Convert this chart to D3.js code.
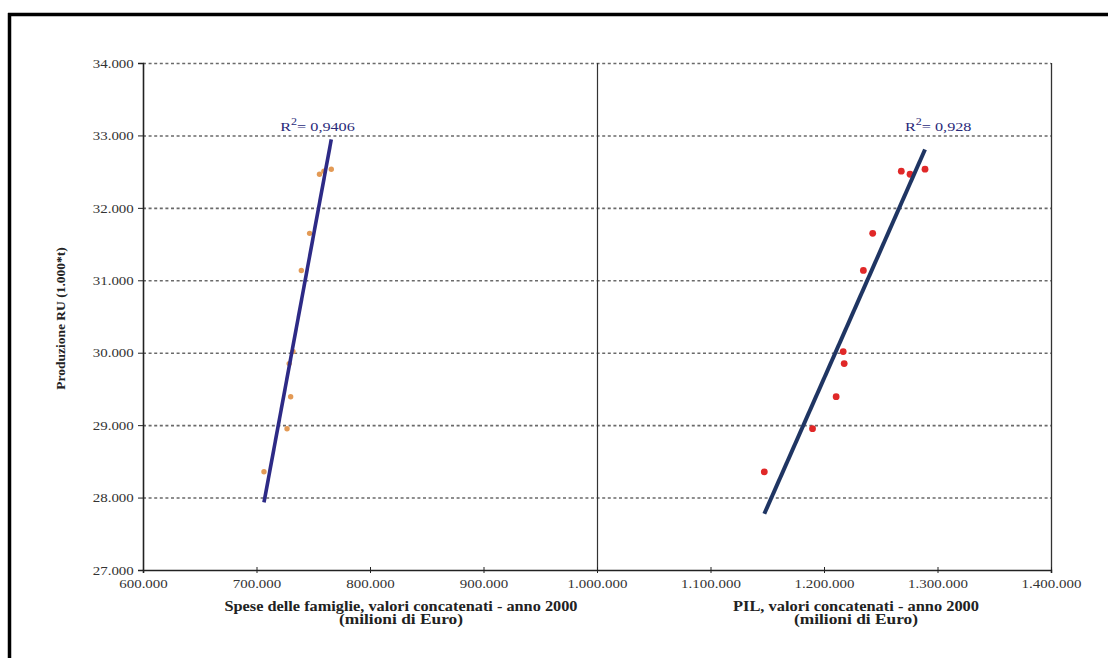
<!DOCTYPE html>
<html>
<head>
<meta charset="utf-8">
<script src="https://cdn.jsdelivr.net/npm/d3@7"></script>
<style>
  html, body { margin: 0; padding: 0; background: #fff; }
  svg { display: block; }
  svg text { font-family: "Liberation Serif", "Times New Roman", serif; }
</style>
</head>
<body>
<svg id="chart" width="1108" height="658"></svg>
<script>
// Produzione RU (1.000 t) per anno
const production = [28356, 28951, 29393, 29850, 30016, 31136, 31648, 32464, 32506, 32534];
// Spese delle famiglie, valori concatenati anno 2000 (milioni di Euro)
const householdSpending = [706600, 726900, 730100, 728800, 732100, 739500, 746800, 755500, 759400, 765900];
// PIL, valori concatenati anno 2000 (milioni di Euro)
const gdp = [1147400, 1189900, 1210700, 1217800, 1216900, 1234700, 1242900, 1275800, 1268100, 1289000];

const xTicks = [600000, 700000, 800000, 900000, 1000000, 1100000, 1200000, 1300000, 1400000];
const yTicks = [27000, 28000, 29000, 30000, 31000, 32000, 33000, 34000];
const rSquaredLabels = ["0,9406", "0,928"];
const xTitles = [
  ["Spese delle famiglie, valori concatenati - anno 2000", "(milioni di Euro)"],
  ["PIL, valori concatenati - anno 2000", "(milioni di Euro)"]
];
const yTitle = "Produzione RU (1.000*t)";

const it = d3.formatLocale({ decimal: ",", thousands: ".", grouping: [3], currency: ["", " €"] });
const fmt = it.format(",d");
const SERIF = '"Liberation Serif", "Times New Roman", serif';

const svg = d3.select("#chart");
const plot = { left: 143, right: 1051, top: 63, bottom: 570 };

const x = d3.scaleLinear().domain([600000, 1400000]).range([plot.left, plot.right]);
const y = d3.scaleLinear().domain([27000, 34000]).range([plot.bottom, plot.top]);

// page frame (top and left edges)
svg.append("line").attr("x1", 8).attr("x2", 1108).attr("y1", 14.5).attr("y2", 14.5)
  .attr("stroke", "#000").attr("stroke-width", 3.5);
svg.append("line").attr("x1", 9.5).attr("x2", 9.5).attr("y1", 13).attr("y2", 658)
  .attr("stroke", "#000").attr("stroke-width", 3.5);

// horizontal dotted grid
svg.append("g").selectAll("line").data(yTicks.filter(v => v > 27000)).join("line")
  .attr("x1", plot.left).attr("x2", plot.right)
  .attr("y1", d => y(d) + 0.5).attr("y2", d => y(d) + 0.5)
  .attr("stroke", "#6a6a6a").attr("stroke-width", 1.6).attr("stroke-dasharray", "3,2.6");

// right border and panel separator at 1.000.000
svg.append("line").attr("x1", plot.right + 0.5).attr("x2", plot.right + 0.5)
  .attr("y1", plot.top).attr("y2", plot.bottom).attr("stroke", "#333").attr("stroke-width", 1.3);
svg.append("line").attr("x1", x(1000000) + 0.5).attr("x2", x(1000000) + 0.5)
  .attr("y1", plot.top).attr("y2", plot.bottom).attr("stroke", "#333").attr("stroke-width", 1.2);

// axes
const yAxis = d3.axisLeft(y).tickValues(yTicks).tickFormat(fmt).tickSize(5).tickPadding(3);
const gy = svg.append("g").attr("transform", `translate(${plot.left},0)`).call(yAxis);
gy.attr("font-family", SERIF);
gy.select(".domain").attr("stroke", "#222").attr("stroke-width", 1.6);
gy.selectAll(".tick line").attr("stroke", "#222");
gy.selectAll(".tick text").attr("font-size", 13).attr("fill", "#333")
  .attr("transform", "scale(1.15,1)");

const xAxis = d3.axisBottom(x).tickValues(xTicks).tickFormat(fmt).tickSize(3).tickPadding(6);
const gx = svg.append("g").attr("transform", `translate(0,${plot.bottom})`).call(xAxis);
gx.attr("font-family", SERIF);
gx.select(".domain").attr("stroke", "#222").attr("stroke-width", 1.6);
gx.selectAll(".tick line").attr("stroke", "#222").attr("y1", -3);
gx.selectAll(".tick text").attr("font-size", 13).attr("fill", "#333")
  .attr("transform", "scale(1.15,1)");

// axis titles
svg.append("text").attr("transform", `translate(65,${(plot.top + plot.bottom) / 2 + 2}) rotate(-90)`)
  .attr("text-anchor", "middle").attr("font-size", 13.5).attr("font-weight", "bold").attr("fill", "#222")
  .text(yTitle);

const titleLayout = [
  { cx: 401, widths: [353, 124] },
  { cx: 856, widths: [246, 124] }
];
xTitles.forEach((lines, i) => {
  lines.forEach((t, j) => {
    const w = titleLayout[i].widths[j];
    svg.append("text").attr("x", titleLayout[i].cx - w / 2).attr("y", 611 + j * 13)
      .attr("font-size", 14).attr("font-weight", "bold").attr("fill", "#222")
      .attr("textLength", w).attr("lengthAdjust", "spacingAndGlyphs")
      .text(t);
  });
});

// least-squares fit over the data range
function fit(xs, ys) {
  const mx = d3.mean(xs), my = d3.mean(ys);
  let sxy = 0, sxx = 0;
  xs.forEach((v, i) => { sxy += (v - mx) * (ys[i] - my); sxx += (v - mx) * (v - mx); });
  const b = sxy / sxx, a = my - b * mx;
  const [x0, x1] = d3.extent(xs);
  return [[x0, a + b * x0], [x1, a + b * x1]];
}

const series = [
  { xs: householdSpending, color: "#e39a55", r: 2.7, line: "#2d2a86", lw: 3.6, label: rSquaredLabels[0], dx: -51 },
  { xs: gdp, color: "#e02828", r: 3.4, line: "#1f3563", lw: 4, label: rSquaredLabels[1], dx: -20 }
];

series.forEach(s => {
  const pts = s.xs.map((v, i) => [v, production[i]]);
  svg.append("g").selectAll("circle").data(pts).join("circle")
    .attr("cx", d => x(d[0])).attr("cy", d => y(d[1])).attr("r", s.r).attr("fill", s.color);

  const seg = fit(s.xs, production);
  svg.append("line")
    .attr("x1", x(seg[0][0])).attr("y1", y(seg[0][1]))
    .attr("x2", x(seg[1][0])).attr("y2", y(seg[1][1]))
    .attr("stroke", s.line).attr("stroke-width", s.lw);

  const t = svg.append("g")
    .attr("transform", `translate(${x(seg[1][0]) + s.dx},131) scale(1.2,1)`)
    .append("text").attr("font-size", 13.5).attr("fill", "#2a2a7a");
  t.append("tspan").text("R");
  t.append("tspan").attr("dy", -6).attr("font-size", 10).text("2");
  t.append("tspan").attr("dy", 6).text("= " + s.label);
});
</script>
</body>
</html>
